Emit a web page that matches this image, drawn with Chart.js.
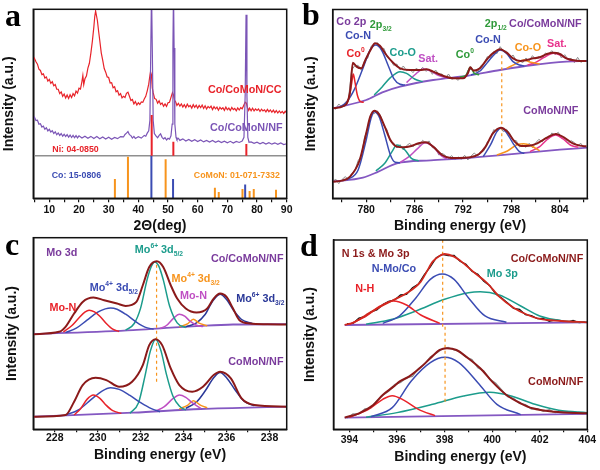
<!DOCTYPE html>
<html>
<head>
<meta charset="utf-8">
<script src="https://cdn.jsdelivr.net/npm/chart.js@4.4.0/dist/chart.umd.min.js"></script>
<style>
  body { margin: 0; background: #fff; width: 600px; height: 470px; position: relative; overflow: hidden; }
  .panel { position: absolute; width: 300px; height: 235px; }
  .tag { position: absolute; font: bold 32px "Liberation Serif", "Times New Roman", serif; line-height: 32px; color: #000; }
</style>
</head>
<body>
<div class="panel" style="left:0;top:0"><canvas id="pa" width="300" height="235"></canvas></div>
<div class="panel" style="left:300px;top:0"><canvas id="pb" width="300" height="235"></canvas></div>
<div class="panel" style="left:0;top:235px"><canvas id="pc" width="300" height="235"></canvas></div>
<div class="panel" style="left:300px;top:235px"><canvas id="pd" width="300" height="235"></canvas></div>
<div class="tag" style="left:5px;top:-1px">a</div>
<div class="tag" style="left:302px;top:-2px">b</div>
<div class="tag" style="left:5px;top:228px">c</div>
<div class="tag" style="left:300px;top:229px">d</div>
<script>
// ---- (a) XRD ----
var aRedCC = [[4.6,75.5],[5,74.5],[5.5,72.8],[6,71.5],[6.5,68.9],[7,68.2],[7.5,66.0],[8,66.4],[8.5,64.2],[9,64.8],[9.5,62.6],[10,63.5],[10.5,61.4],[11,62.3],[11.5,60.2],[12,60.8],[12.5,58.4],[13,58.3],[13.5,56.0],[14,56.9],[14.5,54.6],[15,55.8],[15.5,53.7],[16,55.3],[16.5,53.5],[17,55.4],[17.5,53.9],[18,56.0],[18.5,54.8],[19,57.4],[19.5,56.3],[20,58.9],[20.5,58.4],[21,62.5],[21.3,65.5],[21.6,60.8],[22,63.8],[22.5,65.2],[23,69.4],[23.5,72.0],[24,77.3],[24.5,83.5],[25,91.0],[25.3,96.5],[25.6,99.5],[25.9,97.0],[26.2,94.5],[26.6,89.0],[27,84.0],[27.5,77.5],[28,73.5],[28.5,69.2],[29,67.3],[29.5,64.8],[30,64.5],[30.5,61.6],[31,61.8],[31.5,59.1],[32,59.6],[32.5,57.0],[33,57.5],[33.5,55.2],[34,56.0],[34.5,53.8],[35,54.6],[35.5,54.0],[36,56.2],[36.5,56.8],[37,54.6],[37.5,52.4],[38,52.9],[38.5,50.6],[39,51.8],[39.5,50.0],[40,51.2],[40.5,50.3],[41,51.6],[41.5,51.4],[42,53.2],[42.5,54.6],[43,57.5],[43.5,61.0],[43.8,64.5],[44.1,67.5],[44.4,66.0],[44.7,59.0],[45,56.5],[45.5,53.4],[46,53.0],[46.5,51.0],[47,52.2],[47.5,50.3],[48,51.1],[48.5,49.4],[49,50.6],[49.5,49.3],[50,51.2],[50.5,51.5],[51,54.0],[51.5,56.5],[51.8,55.5],[52.2,52.5],[52.6,51.6],[53,49.8],[53.5,50.9],[54,49.4],[54.5,50.6],[55,49.0],[55.5,50.2],[56,48.7],[56.5,50.5],[57,49.1],[57.5,49.8],[58,48.4],[58.5,50.2],[59,48.8],[59.5,49.9],[60,48.3],[60.5,49.8],[61,48.6],[61.5,50.0],[62,48.2],[62.5,49.6],[63,47.9],[63.5,49.2],[64,48.5],[64.5,49.4],[65,47.6],[65.5,49.1],[66,48.0],[66.5,48.9],[67,47.3],[67.5,48.8],[68,47.9],[68.5,48.6],[69,47.2],[69.5,48.9],[70,47.5],[70.5,48.4],[71,47.1],[71.5,48.7],[72,47.6],[72.5,48.2],[73,47.0],[73.5,48.5],[74,47.4],[74.5,48.6],[75,48.0],[75.5,49.8],[76,51.5],[76.4,51.0],[76.8,48.6],[77.2,47.2],[77.5,48.4],[78,47.0],[78.5,48.3],[79,46.9],[79.5,48.0],[80,47.2],[80.5,47.9],[81,46.6],[81.5,47.8],[82,46.9],[82.5,47.5],[83,46.4],[83.5,47.7],[84,46.5],[84.5,47.4],[85,46.2],[85.5,47.3],[86,46.0],[86.5,47.1],[87,45.8],[87.5,46.9],[88,45.9],[88.5,46.6],[89,45.6],[89.5,46.7],[90,45.9]];
var aPurpleNF = [[4.6,44.5],[5,43.5],[5.5,41.8],[6,42.0],[6.5,39.9],[7,40.2],[7.5,38.4],[8,38.9],[8.5,37.3],[9,38.0],[9.5,36.4],[10,37.2],[10.5,35.8],[11,36.5],[11.5,35.0],[12,35.9],[12.5,34.4],[13,35.3],[13.5,34.0],[14,35.0],[14.5,33.6],[15,34.6],[15.5,33.4],[16,34.4],[16.5,33.1],[17,34.2],[17.5,32.9],[18,34.0],[18.5,32.8],[19,33.9],[19.5,32.7],[20,33.8],[21,32.6],[22,33.6],[23,32.5],[24,33.5],[25,32.4],[26,33.4],[27,32.2],[28,33.2],[29,32.1],[30,33.0],[31,32.0],[32,32.9],[33,32.3],[34,33.4],[35,33.2],[35.5,34.5],[36,35.2],[36.5,36.0],[37,34.4],[37.5,33.9],[38,32.6],[38.5,33.5],[39,32.4],[40,33.3],[41,32.6],[42,34.0],[42.5,33.6],[43,35.2],[43.5,36.4],[43.9,42],[44.2,80],[44.45,110],[44.7,80],[45.0,42],[45.4,35.0],[46,33.6],[46.5,32.8],[47,34.0],[47.5,34.8],[48,33.0],[48.5,32.2],[49,32.8],[49.5,31.6],[50,32.5],[50.5,32.0],[51,33.8],[51.4,40],[51.65,80],[51.85,110],[52.05,80],[52.3,40],[52.7,33.0],[53,31.8],[53.5,32.5],[54,31.4],[55,32.2],[56,31.1],[57,31.9],[58,30.9],[59,31.7],[60,30.8],[61,31.6],[62,30.6],[63,31.4],[64,30.5],[65,31.3],[66,30.4],[67,31.1],[68,30.2],[69,31.0],[70,30.1],[71,30.9],[72,30.0],[73,30.8],[74,30.3],[75,31.0],[75.6,33],[76.0,55],[76.3,97.5],[76.6,55],[76.9,33],[77.3,30.4],[78,30.6],[79,29.8],[80,30.4],[81,29.6],[82,30.3],[83,29.5],[84,30.2],[85,29.4],[86,30.1],[87,29.3],[88,30.0],[89,29.2],[90,29.6]];
// sticks: [2theta, top]
var aNiSticks = [[44.5,44.7],[51.8,30.7],[76.4,29.5]];
var aCoSticks = [[44.4,23.3],[51.7,11.0],[76.0,8.2]];
var aCoMoNSticks = [[32.1,11.0],[36.5,22.8],[49.2,21.4],[65.8,6.5],[67.1,4.2],[75.1,5.8],[77.5,4.7],[78.9,5.8],[86.4,5.4]];
var aDividerLevel = 23.3;
var aTicks = [5,10,15,20,25,30,35,40,45,50,55,60,65,70,75,80,85,90];
var aTickLabels = [10,20,30,40,50,60,70,80,90];

// ---- (b) Co 2p ----
var bRawX = [775.8,776.2,776.6,777.0,777.4,777.8,778.2,778.6,779.0,779.4,779.8,780.2,780.6,781.0,781.4,781.8,782.2,782.6,783.0,783.4,783.8,784.2,784.6,785.0,785.4,785.8,786.2,786.6,787.0,787.4,787.8,788.2,788.6,789.0,789.4,789.8,790.2,790.6,791.0,791.4,791.8,792.2,792.6,793.0,793.4,793.8,794.2,794.6,795.0,795.4,795.8,796.2,796.6,797.0,797.4,797.8,798.2,798.6,799.0,799.4,799.8,800.2,800.6,801.0,801.4,801.8,802.2,802.6,803.0,803.4,803.8,804.2,804.6,805.0,805.4,805.8,806.2,806.6,807.0];
var bTopRaw = [286,277,293,283,297,307,395,408,409,394,423,431,466,473,477,458,460,433,426,409,413,395,407,393,397,387,400,393,403,391,398,382,395,382,383,369,383,367,371,364,376,369,394,397,395,388,408,413,435,432,450,444,465,452,451,431,440,422,423,417,431,422,438,428,435,428,446,442,453,441,448,431,441,427,430,417,433,418,423];
var bBotRaw = [56,68,54,66,75,67,84,93,123,137,193,219,263,264,272,256,228,215,180,176,161,171,155,168,175,164,175,169,184,175,182,162,161,140,145,139,130,138,126,134,127,139,125,137,146,136,150,153,179,189,216,211,223,210,217,204,184,183,164,170,163,175,162,176,187,179,191,188,206,200,208,191,192,175,183,177,168,175,161];
var bTopFit = [[775.9,280],[777.2,287],[778.0,330],[778.35,417],[778.8,405],[779.4,400],[779.9,425],[780.6,458],[781.1,475],[781.7,468],[782.5,440],[783.4,415],[784.2,400],[785.4,395],[786.6,395],[787.5,397],[788.3,390],[789.6,377],[790.8,370],[792.0,370],[792.6,385],[792.9,403],[793.3,393],[794.1,400],[794.9,425],[795.7,445],[796.6,457],[797.4,447],[798.2,430],[799.1,422],[799.9,425],[800.7,430],[801.5,433],[802.4,443],[803.2,447],[804.0,443],[804.8,430],[806.1,423],[807.3,422]];
var bTopBase = [[775.85,280],[780.0,305],[782.0,328],[784.2,345],[788.3,365],[792.4,377],[796.6,395],[800.7,410],[804.8,420],[807.4,422]];
var bTopCo0a = [[777.5,290],[777.9,315],[778.2,355],[778.4,383],[778.6,360],[778.9,320],[779.3,300],[779.7,298]];
var bTopCoN1 = [[776.7,283],[777.6,300],[778.6,340],[779.6,400],[780.5,455],[781.2,470],[781.9,455],[782.7,410],[783.4,370],[784.2,352],[784.8,350]];
var bTopCoO1 = [[781.0,320],[782.0,345],[783.0,372],[784.2,390],[785.0,385],[786.0,368],[787.0,360]];
var bTopSat1 = [[785.0,357],[786.0,380],[787.1,398],[788.0,392],[789.0,378],[790.0,371]];
var bTopCo0b = [[791.6,374],[792.4,380],[792.9,403],[793.4,385],[794.0,381]];
var bTopCoN2 = [[793.0,380],[794.1,392],[795.1,420],[796.0,445],[796.6,455],[797.4,445],[798.2,420],[799.0,410],[799.6,407]];
var bTopCoO2 = [[797.4,400],[798.4,412],[799.5,425],[800.4,418],[801.5,413]];
var bTopSat2 = [[800.0,410],[801.0,418],[802.0,432],[803.2,445],[804.2,438],[805.2,425],[806.3,422]];
var bBotFit = [[775.8,60],[777.0,63],[778.0,75],[779.2,125],[780.0,205],[780.5,255],[781.0,273],[781.6,262],[782.3,225],[783.0,185],[783.8,165],[784.6,163],[785.6,167],[786.5,175],[787.4,178],[788.3,165],[789.4,140],[790.5,131],[791.5,131],[792.9,133],[794.0,143],[794.8,165],[795.7,205],[796.7,222],[797.5,210],[798.4,180],[799.2,167],[800.2,168],[801.2,175],[802.4,192],[803.5,203],[804.5,193],[805.6,175],[806.5,168],[807.3,166]];
var bBotBase = [[775.85,60],[779.6,72],[781.5,90],[783.8,115],[788.0,124],[792.0,130],[796.0,138],[800.3,148],[804.0,156],[807.4,162]];
var bBotCoN1 = [[777.6,65],[779.0,95],[780.0,185],[780.6,250],[781.0,270],[781.6,255],[782.3,200],[783.0,140],[783.6,118],[784.2,117]];
var bBotCoO1 = [[781.2,92],[782.3,115],[783.2,150],[783.8,170],[784.8,155],[785.6,130],[786.5,122]];
var bBotSat1 = [[784.2,117],[785.3,135],[786.4,160],[787.3,177],[788.3,165],[789.2,140],[790.0,128]];
var bBotCoN2 = [[794.5,135],[795.4,170],[796.2,210],[796.7,220],[797.3,210],[798.2,175],[799.0,150],[799.6,145]];
var bBotCoO2 = [[796.2,140],[797.5,152],[798.8,172],[799.5,174],[800.5,167],[801.5,152]];
var bBotSat2 = [[800.3,150],[801.5,165],[802.6,190],[803.5,200],[804.4,188],[805.3,170],[806.3,163]];
var bGuide = [[796.8,160],[796.8,440]];
var bTicks = [777,780,783,786,789,792,795,798,801,804,807];
var bTickLabels = [780,786,792,798,804];

// ---- (c) Mo 3d ----
var cTopFit = [[227.0,286],[228.2,293],[228.5,308],[228.9,348],[229.3,383],[229.8,396],[230.3,388],[230.9,378],[231.3,371],[231.8,383],[232.1,433],[232.4,488],[232.75,505],[233.05,488],[233.4,433],[233.7,393],[234.1,363],[234.6,351],[235.1,363],[235.4,393],[235.7,408],[236.0,398],[236.3,363],[236.6,328],[237.1,318],[237.9,316],[238.8,315]];
var cTopBase = [[227.0,286],[231.65,298],[233.2,305],[234.8,311],[236.3,315],[238.8,316]];
var cTopMoN1 = [[228.4,293],[228.8,312],[229.1,333],[229.4,352],[229.6,358],[229.85,353],[230.1,340],[230.4,318],[230.7,301],[231.0,294]];
var cTopMo4a = [[228.5,291],[229.0,304],[229.5,328],[230.0,352],[230.35,362],[230.6,365],[230.9,361],[231.3,346],[231.8,322],[232.2,307],[232.6,301]];
var cTopMo6a = [[231.3,298],[231.7,318],[232.0,365],[232.3,450],[232.5,490],[232.65,503],[232.85,490],[233.05,450],[233.35,370],[233.7,320],[234.1,306]];
var cTopMoN2 = [[232.9,303],[233.2,312],[233.5,332],[233.8,346],[234.05,340],[234.3,325],[234.6,313],[234.9,309]];
var cTopMo4b = [[233.8,308],[234.2,318],[234.45,331],[234.7,320],[235.1,311]];
var cTopMo6b = [[234.1,308],[234.6,320],[235.0,345],[235.35,385],[235.7,406],[236.0,390],[236.3,360],[236.7,330],[237.2,318]];
var cBotFit = [[227.0,38],[228.5,43],[228.9,83],[229.3,133],[229.9,155],[230.4,148],[231.0,128],[231.6,143],[232.1,193],[232.4,253],[232.7,271],[233.0,253],[233.4,183],[233.8,133],[234.4,113],[234.9,128],[235.4,163],[235.7,173],[236.2,153],[236.7,93],[237.3,73],[238.8,68]];
var cBotBase = [[227.0,38],[231.65,50],[234.8,61],[238.8,68]];
var cBotMoN1 = [[228.9,43],[229.2,62],[229.5,90],[229.8,103],[230.1,93],[230.4,72],[230.7,56],[231.1,48]];
var cBotMo4a = [[228.5,43],[229.1,58],[229.7,90],[230.2,115],[230.6,125],[231.0,120],[231.5,102],[232.0,80],[232.5,62],[232.9,53]];
var cBotMo6a = [[231.5,48],[231.9,80],[232.2,160],[232.45,235],[232.7,271],[232.95,235],[233.2,165],[233.5,100],[233.8,70],[234.1,58]];
var cBotMoN2 = [[232.7,55],[233.1,68],[233.5,92],[233.8,103],[234.1,96],[234.4,80],[234.8,63]];
var cBotMo4b = [[233.8,61],[234.2,73],[234.45,86],[234.8,72],[235.1,65]];
var cBotMo6b = [[234.1,63],[234.6,82],[235.0,115],[235.4,155],[235.7,171],[236.0,155],[236.4,118],[236.8,85],[237.3,71]];
var cGuide = [[232.74,143],[232.74,503]];
var cTicks = [228,229,230,231,232,233,234,235,236,237,238];
var cTickLabels = [228,230,232,234,236,238];

// ---- (d) N 1s & Mo 3p ----
var dRawX = [393.9,394.15,394.4,394.65,394.9,395.15,395.4,395.65,395.9,396.15,396.4,396.65,396.9,397.15,397.4,397.65,397.9,398.15,398.4,398.65,398.9,399.15,399.4,399.65,399.9,400.15,400.4,400.65,400.9,401.15,401.4,401.65,401.9,402.15,402.4,402.65,402.9,403.15,403.4,403.65,403.9];
var dTopRaw = [322,323,339,343,357,363,379,389,393,408,410,430,441,469,492,520,530,526,527,509,500,479,470,449,436,411,399,384,368,365,349,346,337,338,329,333,331,326,332,325,327];
var dBotRaw = [39,51,51,66,69,91,107,119,139,146,160,164,187,200,222,233,246,251,243,238,222,214,190,180,156,143,123,103,98,83,79,66,67,59,64,55,58,59,53,56,53];
var dTopFit = [[393.8,318],[394.2,326],[394.7,348],[395.3,373],[395.85,393],[396.4,413],[397.0,448],[397.25,478],[397.5,508],[397.8,526],[398.0,531],[398.4,523],[398.8,503],[399.2,478],[399.8,443],[400.3,403],[400.9,370],[401.5,348],[402.0,336],[402.9,330],[404.0,326]];
var dTopBase = [[393.8,318],[404.0,326]];
var dTopNH = [[394.0,320],[394.7,345],[395.3,375],[395.85,390],[396.4,378],[397.0,348],[397.8,323]];
var dTopNMo = [[395.4,323],[396.1,345],[396.8,400],[397.4,455],[397.9,471],[398.4,455],[399.0,400],[399.7,345],[400.6,326]];
var dTopMo3p = [[394.7,320],[395.8,335],[396.8,360],[398.0,395],[399.0,415],[399.5,418],[400.3,408],[401.2,375],[402.0,345],[403.0,330],[404.0,326]];
var dBotFit = [[393.8,40],[394.4,53],[395.0,78],[395.4,108],[395.85,133],[396.1,148],[396.5,163],[396.95,188],[397.4,218],[397.8,243],[398.1,248],[398.5,243],[398.9,223],[399.5,188],[400.0,148],[400.6,108],[401.2,83],[401.7,68],[402.6,58],[404.0,53]];
var dBotBase = [[393.8,40],[404.0,51]];
var dBotNH = [[394.0,41],[394.8,65],[395.4,95],[395.8,106],[396.3,92],[396.9,65],[397.6,46]];
var dBotNMo = [[394.9,43],[395.8,70],[396.6,150],[397.4,205],[398.0,221],[398.6,205],[399.4,145],[400.2,80],[401.2,49]];
var dBotMo3p = [[394.7,41],[396.0,55],[397.5,80],[398.8,105],[399.9,116],[400.8,105],[401.8,80],[402.8,62],[404.0,55]];
var dGuideTop = [[397.92,313],[397.92,573]];
var dGuideBot = [[398.02,88],[398.02,318]];
var dTicks = [394,395,396,397,398,399,400,401,402,403,404];
var dTickLabels = [394,396,398,400,402,404];

// colori
var RED = '#e8232a', PURPLE = '#7b55b6', BLUE = '#3b4cb3', ORANGE = '#f7941d', TEAL = '#1c9c8c',
    MAGENTA = '#bf4fc3', GREEN = '#2f9a3a', PINK = '#e8328c', NAVY = '#2a3898', FIT = '#8b1a1a',
    BASE = '#8458c2', RAW = '#8d8d8d', LPURPLE = '#7a3b9c', FONT = '"Liberation Sans", Arial, sans-serif';

function xy(arr) { return arr.map(function (p) { return {x: p[0], y: p[1]}; }); }
function zip(xs, ys) { return xs.map(function (x, i) { return {x: x, y: ys[i]}; }); }
function sticks(list, base) {
  var out = [];
  list.forEach(function (s) { out.push({x: s[0], y: base}, {x: s[0], y: s[1]}, {x: s[0], y: null}); });
  return out;
}
function curve(points, color, width, smooth, dash) {
  return {data: points, showLine: true, borderColor: color, borderWidth: width, pointRadius: 0,
    cubicInterpolationMode: smooth ? 'monotone' : 'default', tension: 0, fill: false,
    borderDash: dash || [], spanGaps: false};
}

// cornice completa attorno all'area del grafico + etichette con apici/pedici
function panelPlugin(labels) {
  return {
    id: 'panelDeco',
    afterDatasetsDraw: function (chart) {
      var ctx = chart.ctx, a = chart.chartArea, xs = chart.scales.x, ys = chart.scales.y;
      ctx.save();
      ctx.strokeStyle = '#111'; ctx.lineWidth = 1.5;
      ctx.strokeRect(a.left, a.top, a.right - a.left, a.bottom - a.top);
      labels.forEach(function (it) {
        var size = it.size || 10.8;
        var segs = it.parts.map(function (p) {
          var mode = p[1] || '';
          var fs = mode ? size * 0.62 : size;
          ctx.font = 'bold ' + fs + 'px ' + FONT;
          return {t: p[0], mode: mode, fs: fs, w: ctx.measureText(p[0]).width};
        });
        var total = segs.reduce(function (s, g) { return s + g.w; }, 0);
        var x = xs.getPixelForValue(it.x), y = ys.getPixelForValue(it.y);
        if (it.align === 'right') x -= total;
        var base = y + size * 0.36;
        ctx.fillStyle = it.color; ctx.textAlign = 'left'; ctx.textBaseline = 'alphabetic';
        segs.forEach(function (g) {
          ctx.font = 'bold ' + g.fs + 'px ' + FONT;
          var dy = g.mode === 'sup' ? -size * 0.45 : (g.mode === 'sub' ? size * 0.28 : 0);
          ctx.fillText(g.t, x, base + dy);
          x += g.w;
        });
      });
      ctx.restore();
    }
  };
}

function makePanel(id, o) {
  return new Chart(document.getElementById(id), {
    type: 'scatter',
    data: {datasets: o.datasets},
    plugins: [panelPlugin(o.labels)],
    options: {
      responsive: false, animation: false, devicePixelRatio: 1,
      layout: {padding: {top: o.area.top, right: 300 - o.area.right, left: 0, bottom: 0}},
      plugins: {legend: {display: false}, tooltip: {enabled: false}},
      scales: {
        x: {
          type: 'linear', min: o.xMin, max: o.xMax,
          afterFit: function (s) { s.height = 235 - o.area.bottom; },
          afterBuildTicks: function (s) { s.ticks = o.ticks.map(function (v) { return {value: v}; }); },
          ticks: {
            autoSkip: false, maxRotation: 0, padding: o.tickPad, color: '#111',
            font: {family: FONT, size: 10.5, weight: 'bold'},
            callback: function (v) { return o.tickLabels.indexOf(v) >= 0 ? String(v) : ''; }
          },
          grid: {drawOnChartArea: false, drawTicks: true, tickLength: o.tickLen, color: '#111', lineWidth: 1.2},
          border: {color: '#111', width: 1.5},
          title: {display: true, text: o.xTitle, color: '#111', font: {family: FONT, size: 14, weight: 'bold'},
            padding: {top: 0, bottom: o.titlePad}}
        },
        y: {
          min: o.yMin, max: o.yMax,
          afterFit: function (s) { s.width = o.area.left; },
          ticks: {display: false},
          grid: {display: false},
          border: {color: '#111', width: 1.5},
          title: {display: true, text: 'Intensity (a.u.)', color: '#111', font: {family: FONT, size: 14, weight: 'bold'},
            padding: {top: o.yTitlePad, bottom: 0}}
        }
      }
    }
  });
}

// (a)
makePanel('pa', {
  area: {left: 33.3, right: 286.7, top: 9.3, bottom: 198.3},
  xMin: 4.6, xMax: 90, yMin: 0.9, yMax: 100.4,
  ticks: aTicks, tickLabels: aTickLabels, tickLen: 4, tickPad: 2, titlePad: 0, yTitlePad: 0.6,
  xTitle: '2\u0398(deg)',
  datasets: [
    curve(sticks(aNiSticks, aDividerLevel), RED, 2, false),
    curve(sticks(aCoSticks, 0), BLUE, 2, false),
    curve(sticks(aCoMoNSticks, 0), ORANGE, 2, false),
    curve([{x: 4.6, y: aDividerLevel}, {x: 90, y: aDividerLevel}], '#8f8f8f', 1.5, false),
    curve(xy(aPurpleNF), PURPLE, 1.2, false),
    curve(xy(aRedCC), RED, 1.2, false)
  ],
  labels: [
    {x: 88.3, y: 58.2, align: 'right', color: RED, parts: [['Co/CoMoN/CC']]},
    {x: 88.6, y: 38.6, align: 'right', color: PURPLE, parts: [['Co/CoMoN/NF']]},
    {x: 11.0, y: 26.7, align: 'left', color: RED, size: 8.8, parts: [['Ni: 04-0850']]},
    {x: 10.8, y: 13.5, align: 'left', color: BLUE, size: 8.8, parts: [['Co: 15-0806']]},
    {x: 87.7, y: 13.5, align: 'right', color: ORANGE, size: 8.8, parts: [['CoMoN: 01-071-7332']]}
  ]
});

// (b)
makePanel('pb', {
  area: {left: 32.7, right: 287.3, top: 9.5, bottom: 198.3},
  xMin: 775.85, xMax: 807.4, yMin: 10, yMax: 576.5,
  ticks: bTicks, tickLabels: bTickLabels, tickLen: 4, tickPad: 2, titlePad: 0, yTitlePad: 2.6,
  xTitle: 'Binding energy (eV)',
  datasets: [
    curve(xy(bTopFit), FIT, 2, true),
    curve(xy(bBotFit), FIT, 2, true),
    curve(xy(bGuide), ORANGE, 1.2, false, [3, 3]),
    curve(xy(bTopCo0a), RED, 1.5, true),
    curve(xy(bTopCoN1), BLUE, 1.5, true),
    curve(xy(bTopCoO1), TEAL, 1.5, true),
    curve(xy(bTopSat1), MAGENTA, 1.5, true),
    curve(xy(bTopCo0b), GREEN, 1.5, true),
    curve(xy(bTopCoN2), BLUE, 1.5, true),
    curve(xy(bTopCoO2), ORANGE, 1.5, true),
    curve(xy(bTopSat2), PINK, 1.5, true),
    curve(xy(bBotCoN1), BLUE, 1.5, true),
    curve(xy(bBotCoO1), TEAL, 1.5, true),
    curve(xy(bBotSat1), MAGENTA, 1.5, true),
    curve(xy(bBotCoN2), BLUE, 1.5, true),
    curve(xy(bBotCoO2), ORANGE, 1.5, true),
    curve(xy(bBotSat2), PINK, 1.5, true),
    curve(xy(bTopBase), BASE, 1.8, true),
    curve(xy(bBotBase), BASE, 1.8, true),
    curve(zip(bRawX, bTopRaw), RAW, 1, false),
    curve(zip(bRawX, bBotRaw), RAW, 1, false)
  ],
  labels: [
    {x: 776.3, y: 543, align: 'left', color: LPURPLE, parts: [['Co 2p']]},
    {x: 780.45, y: 533, align: 'left', color: GREEN, parts: [['2p'], ['3/2', 'sub']]},
    {x: 777.4, y: 500, align: 'left', color: BLUE, parts: [['Co-N']]},
    {x: 777.56, y: 445, align: 'left', color: RED, parts: [['Co'], ['0', 'sup']]},
    {x: 782.9, y: 450, align: 'left', color: TEAL, parts: [['Co-O']]},
    {x: 786.45, y: 430, align: 'left', color: MAGENTA, parts: [['Sat.']]},
    {x: 791.1, y: 443, align: 'left', color: GREEN, parts: [['Co'], ['0', 'sup']]},
    {x: 794.7, y: 537, align: 'left', color: GREEN, parts: [['2p'], ['1/2', 'sub']]},
    {x: 793.5, y: 487, align: 'left', color: BLUE, parts: [['Co-N']]},
    {x: 806.7, y: 537, align: 'right', color: LPURPLE, parts: [['Co/CoMoN/NF']]},
    {x: 798.4, y: 465, align: 'left', color: ORANGE, parts: [['Co-O']]},
    {x: 802.4, y: 475, align: 'left', color: PINK, parts: [['Sat.']]},
    {x: 806.3, y: 275, align: 'right', color: LPURPLE, parts: [['CoMoN/NF']]}
  ]
});

// (c)
makePanel('pc', {
  area: {left: 33.3, right: 286.7, top: 2.7, bottom: 194.3},
  xMin: 227, xMax: 238.8, yMin: 0, yMax: 576,
  ticks: cTicks, tickLabels: cTickLabels, tickLen: 3, tickPad: 0, titlePad: 6.6, yTitlePad: 3.3,
  xTitle: 'Binding energy (eV)',
  datasets: [
    curve(xy(cTopFit), FIT, 2, true),
    curve(xy(cBotFit), FIT, 2, true),
    curve(xy(cGuide), ORANGE, 1.2, false, [3, 3]),
    curve(xy(cTopMoN1), RED, 1.5, true),
    curve(xy(cTopMo4a), BLUE, 1.5, true),
    curve(xy(cTopMo6a), TEAL, 1.5, true),
    curve(xy(cTopMoN2), MAGENTA, 1.5, true),
    curve(xy(cTopMo4b), ORANGE, 1.5, true),
    curve(xy(cTopMo6b), NAVY, 1.5, true),
    curve(xy(cBotMoN1), RED, 1.5, true),
    curve(xy(cBotMo4a), BLUE, 1.5, true),
    curve(xy(cBotMo6a), TEAL, 1.5, true),
    curve(xy(cBotMoN2), MAGENTA, 1.5, true),
    curve(xy(cBotMo4b), ORANGE, 1.5, true),
    curve(xy(cBotMo6b), NAVY, 1.5, true),
    curve(xy(cTopBase), BASE, 1.8, true),
    curve(xy(cBotBase), BASE, 1.8, true)
  ],
  labels: [
    {x: 227.6, y: 533, align: 'left', color: LPURPLE, parts: [['Mo 3d']]},
    {x: 227.75, y: 368, align: 'left', color: RED, parts: [['Mo-N']]},
    {x: 229.63, y: 428, align: 'left', color: BLUE, parts: [['Mo'], ['4+', 'sup'], [' 3d'], ['5/2', 'sub']]},
    {x: 231.73, y: 541, align: 'left', color: TEAL, parts: [['Mo'], ['6+', 'sup'], [' 3d'], ['5/2', 'sub']]},
    {x: 233.44, y: 455, align: 'left', color: ORANGE, parts: [['Mo'], ['4+', 'sup'], [' 3d'], ['3/2', 'sub']]},
    {x: 233.83, y: 403, align: 'left', color: MAGENTA, parts: [['Mo-N']]},
    {x: 236.45, y: 395, align: 'left', color: NAVY, parts: [['Mo'], ['6+', 'sup'], [' 3d'], ['3/2', 'sub']]},
    {x: 238.65, y: 515, align: 'right', color: LPURPLE, parts: [['Co/CoMoN/NF']]},
    {x: 238.65, y: 205, align: 'right', color: LPURPLE, parts: [['CoMoN/NF']]}
  ]
});

// (d)
makePanel('pd', {
  area: {left: 33.5, right: 287.3, top: 5, bottom: 194.3},
  xMin: 393.33, xMax: 404, yMin: 5, yMax: 573,
  ticks: dTicks, tickLabels: dTickLabels, tickLen: 3, tickPad: 1.4, titlePad: 4.3, yTitlePad: 1.6,
  xTitle: 'Binding energy (eV)',
  datasets: [
    curve(xy(dTopFit), '#d0281e', 1.8, true),
    curve(xy(dBotFit), FIT, 2, true),
    curve(xy(dGuideTop), ORANGE, 1.2, false, [3, 3]),
    curve(xy(dGuideBot), ORANGE, 1.2, false, [3, 3]),
    curve(xy(dTopNH), RED, 1.5, true),
    curve(xy(dTopNMo), BLUE, 1.5, true),
    curve(xy(dTopMo3p), TEAL, 1.5, true),
    curve(xy(dBotNH), RED, 1.5, true),
    curve(xy(dBotNMo), BLUE, 1.5, true),
    curve(xy(dBotMo3p), TEAL, 1.5, true),
    curve(xy(dTopBase), BASE, 1.8, false),
    curve(xy(dBotBase), BASE, 1.8, false),
    curve(zip(dRawX, dTopRaw), '#111', 1.3, false),
    curve(zip(dRawX, dBotRaw), RAW, 1.3, false)
  ],
  labels: [
    {x: 393.68, y: 533, align: 'left', color: FIT, parts: [['N 1s & Mo 3p']]},
    {x: 394.94, y: 488, align: 'left', color: BLUE, parts: [['N-Mo/Co']]},
    {x: 394.24, y: 428, align: 'left', color: RED, parts: [['N-H']]},
    {x: 403.83, y: 518, align: 'right', color: FIT, parts: [['Co/CoMoN/NF']]},
    {x: 399.77, y: 473, align: 'left', color: TEAL, parts: [['Mo 3p']]},
    {x: 403.83, y: 150, align: 'right', color: FIT, parts: [['CoMoN/NF']]}
  ]
});
</script>
</body>
</html>
